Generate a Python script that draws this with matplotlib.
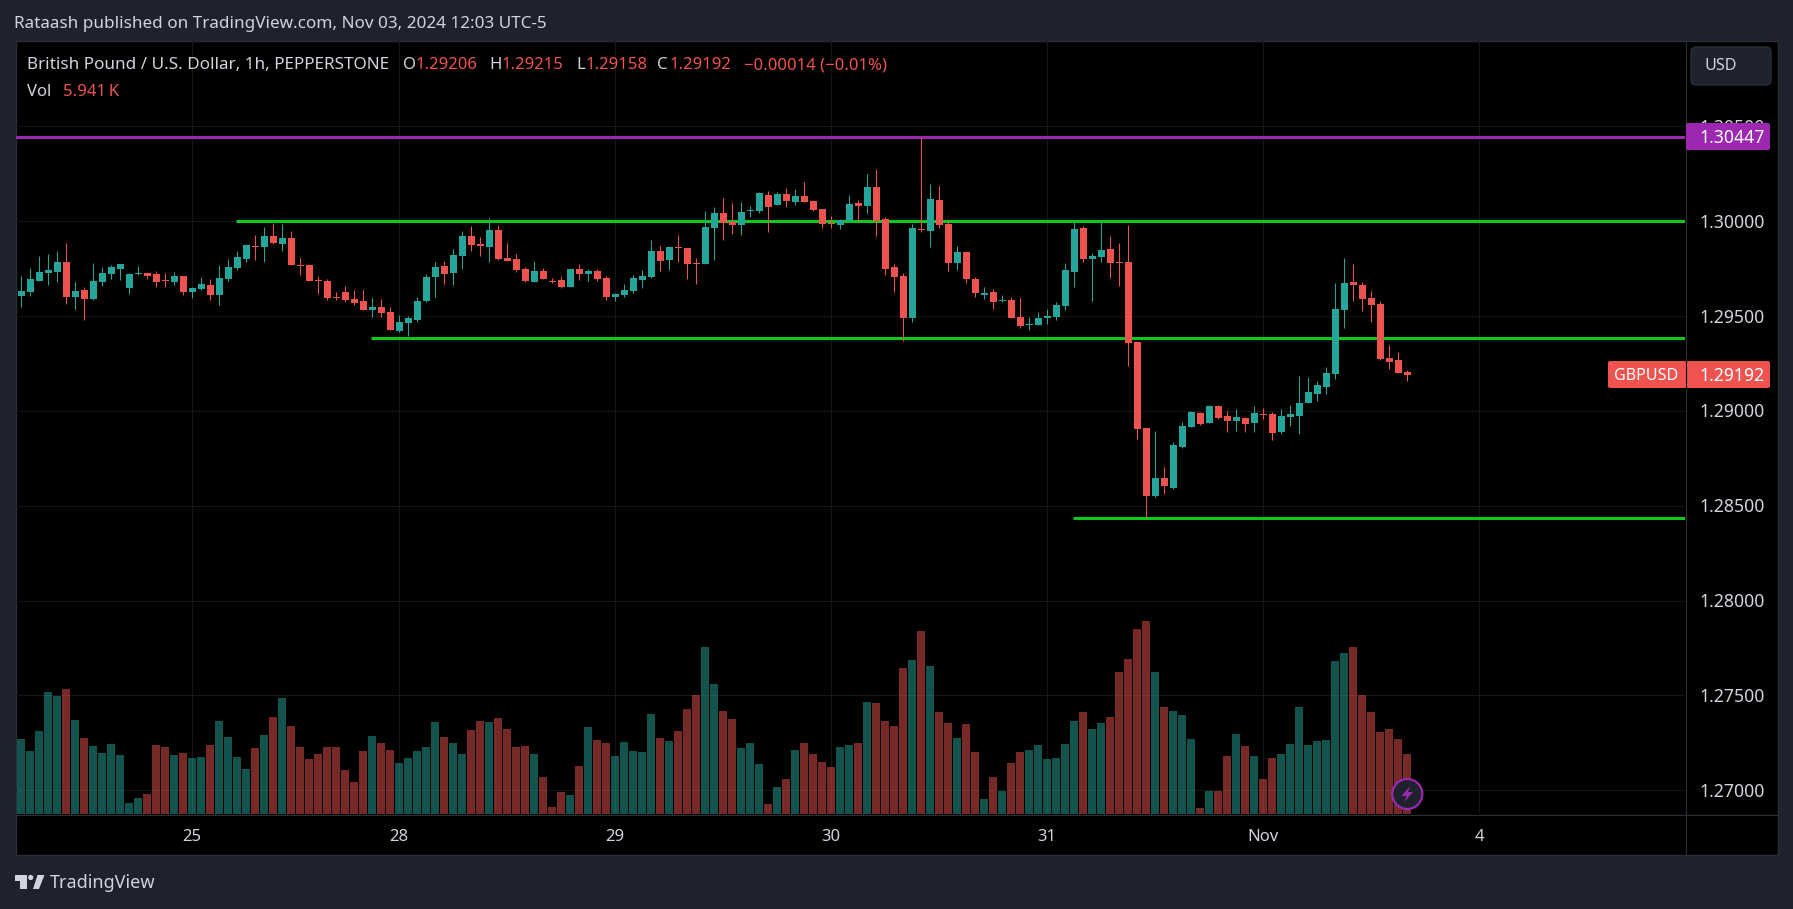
import numpy as np
import matplotlib
matplotlib.use('Agg')
import matplotlib.pyplot as plt
from matplotlib.patches import Circle, FancyBboxPatch, Polygon, Rectangle

opens = [
    1.29607, 1.29628, 1.29686, 1.29728, 1.29733, 1.29786, 1.29602, 1.29639, 1.29591, 1.29681,
    1.29723, 1.29749, 1.29649, 1.29723, 1.29728, 1.29723, 1.29691, 1.29681, 1.29712, 1.29628,
    1.29644, 1.29665, 1.29612, 1.29696, 1.29754, 1.29802, 1.29870, 1.29865, 1.29923, 1.29881,
    1.29912, 1.29770, 1.29770, 1.29691, 1.29686, 1.29602, 1.29628, 1.29591, 1.29581, 1.29533,
    1.29549, 1.29523, 1.29423, 1.29465, 1.29481, 1.29581, 1.29707, 1.29765, 1.29728, 1.29818,
    1.29923, 1.29881, 1.29865, 1.29954, 1.29807, 1.29802, 1.29749, 1.29681, 1.29739, 1.29686,
    1.29691, 1.29654, 1.29749, 1.29723, 1.29739, 1.29702, 1.29602, 1.29612, 1.29633, 1.29691,
    1.29707, 1.29844, 1.29796, 1.29865, 1.29860, 1.29781, 1.29775, 1.29965, 1.30044, 1.29996,
    1.29981, 1.30054, 1.30054, 1.30139, 1.30086, 1.30144, 1.30102, 1.30133, 1.30107, 1.30065,
    1.29991, 1.29981, 1.30002, 1.30096, 1.30081, 1.30181, 1.30012, 1.29760, 1.29712, 1.29491,
    1.29960, 1.29949, 1.30112, 1.29986, 1.29781, 1.29839, 1.29696, 1.29612, 1.29628, 1.29581,
    1.29586, 1.29496, 1.29454, 1.29454, 1.29491, 1.29496, 1.29554, 1.29733, 1.29965, 1.29802,
    1.29812, 1.29854, 1.29786, 1.29786, 1.29365, 1.28912, 1.28554, 1.28644, 1.28596, 1.28812,
    1.28918, 1.28991, 1.28939, 1.29028, 1.28975, 1.28949, 1.28965, 1.28939, 1.28986, 1.28986,
    1.28891, 1.28970, 1.28975, 1.29044, 1.29091, 1.29128, 1.29196, 1.29533, 1.29681, 1.29665,
    1.29596, 1.29565, 1.29281, 1.29270, 1.29206,
]
highs = [
    1.29712, 1.29754, 1.29818, 1.29828, 1.29844, 1.29886, 1.29681, 1.29654, 1.29781, 1.29760,
    1.29770, 1.29775, 1.29728, 1.29765, 1.29728, 1.29739, 1.29728, 1.29733, 1.29712, 1.29654,
    1.29707, 1.29696, 1.29770, 1.29802, 1.29844, 1.29875, 1.29928, 1.29970, 1.29991, 1.29986,
    1.29949, 1.29807, 1.29775, 1.29712, 1.29696, 1.29628, 1.29660, 1.29639, 1.29639, 1.29596,
    1.29591, 1.29549, 1.29507, 1.29502, 1.29602, 1.29723, 1.29786, 1.29791, 1.29854, 1.29949,
    1.29975, 1.29918, 1.30018, 1.29981, 1.29886, 1.29828, 1.29760, 1.29791, 1.29754, 1.29702,
    1.29712, 1.29749, 1.29775, 1.29749, 1.29749, 1.29712, 1.29623, 1.29670, 1.29718, 1.29744,
    1.29902, 1.29870, 1.29870, 1.29928, 1.29860, 1.29807, 1.30054, 1.30075, 1.30123, 1.30096,
    1.30102, 1.30081, 1.30154, 1.30160, 1.30154, 1.30175, 1.30170, 1.30207, 1.30112, 1.30065,
    1.30028, 1.30012, 1.30139, 1.30112, 1.30249, 1.30275, 1.30023, 1.29775, 1.29728, 1.29986,
    1.30447, 1.30196, 1.30186, 1.30002, 1.29870, 1.29839, 1.29707, 1.29654, 1.29644, 1.29612,
    1.29602, 1.29596, 1.29496, 1.29523, 1.29539, 1.29575, 1.29781, 1.29996, 1.29975, 1.29833,
    1.29996, 1.29923, 1.29886, 1.29981, 1.29365, 1.28912, 1.28896, 1.28702, 1.28839, 1.28944,
    1.29002, 1.28996, 1.29033, 1.29033, 1.29002, 1.29012, 1.28970, 1.29028, 1.29018, 1.28996,
    1.29012, 1.29033, 1.29186, 1.29181, 1.29160, 1.29233, 1.29675, 1.29807, 1.29775, 1.29681,
    1.29633, 1.29581, 1.29349, 1.29312, 1.29215,
]
lows = [
    1.29549, 1.29607, 1.29686, 1.29665, 1.29681, 1.29565, 1.29539, 1.29481, 1.29586, 1.29660,
    1.29696, 1.29691, 1.29618, 1.29718, 1.29696, 1.29654, 1.29654, 1.29665, 1.29612, 1.29596,
    1.29639, 1.29586, 1.29560, 1.29686, 1.29744, 1.29786, 1.29796, 1.29786, 1.29881, 1.29844,
    1.29770, 1.29718, 1.29686, 1.29618, 1.29586, 1.29586, 1.29575, 1.29560, 1.29533, 1.29496,
    1.29496, 1.29428, 1.29418, 1.29396, 1.29470, 1.29575, 1.29602, 1.29670, 1.29665, 1.29749,
    1.29844, 1.29818, 1.29786, 1.29796, 1.29791, 1.29733, 1.29681, 1.29681, 1.29696, 1.29675,
    1.29649, 1.29654, 1.29691, 1.29686, 1.29686, 1.29586, 1.29581, 1.29602, 1.29623, 1.29649,
    1.29702, 1.29739, 1.29744, 1.29786, 1.29696, 1.29670, 1.29775, 1.29796, 1.29902, 1.29933,
    1.29928, 1.30023, 1.30044, 1.29944, 1.30086, 1.30075, 1.30086, 1.30102, 1.30054, 1.29965,
    1.29965, 1.29960, 1.30002, 1.30002, 1.30044, 1.29923, 1.29718, 1.29628, 1.29370, 1.29470,
    1.29944, 1.29865, 1.29965, 1.29739, 1.29744, 1.29675, 1.29602, 1.29591, 1.29539, 1.29575,
    1.29491, 1.29439, 1.29428, 1.29454, 1.29460, 1.29481, 1.29533, 1.29654, 1.29786, 1.29581,
    1.29786, 1.29702, 1.29660, 1.29239, 1.28854, 1.28439, 1.28549, 1.28560, 1.28591, 1.28807,
    1.28918, 1.28928, 1.28939, 1.28960, 1.28891, 1.28896, 1.28891, 1.28891, 1.28960, 1.28849,
    1.28881, 1.28923, 1.28881, 1.29044, 1.29054, 1.29091, 1.29170, 1.29439, 1.29581, 1.29528,
    1.29470, 1.29270, 1.29223, 1.29202, 1.29158,
]
closes = [
    1.29633, 1.29696, 1.29733, 1.29744, 1.29786, 1.29602, 1.29633, 1.29591, 1.29686, 1.29728,
    1.29760, 1.29775, 1.29723, 1.29728, 1.29712, 1.29681, 1.29686, 1.29712, 1.29628, 1.29649,
    1.29670, 1.29612, 1.29702, 1.29760, 1.29812, 1.29875, 1.29865, 1.29923, 1.29886, 1.29912,
    1.29770, 1.29765, 1.29686, 1.29686, 1.29596, 1.29596, 1.29586, 1.29570, 1.29533, 1.29549,
    1.29518, 1.29428, 1.29470, 1.29491, 1.29581, 1.29707, 1.29760, 1.29723, 1.29823, 1.29923,
    1.29875, 1.29870, 1.29954, 1.29802, 1.29791, 1.29744, 1.29686, 1.29739, 1.29696, 1.29681,
    1.29654, 1.29749, 1.29723, 1.29739, 1.29696, 1.29602, 1.29618, 1.29639, 1.29702, 1.29712,
    1.29844, 1.29791, 1.29865, 1.29860, 1.29775, 1.29775, 1.29970, 1.30044, 1.29991, 1.29981,
    1.30049, 1.30060, 1.30149, 1.30075, 1.30144, 1.30107, 1.30133, 1.30102, 1.30060, 1.29986,
    1.29986, 1.30007, 1.30091, 1.30081, 1.30181, 1.30002, 1.29749, 1.29707, 1.29491, 1.29965,
    1.29954, 1.30118, 1.29981, 1.29781, 1.29839, 1.29696, 1.29623, 1.29623, 1.29575, 1.29586,
    1.29491, 1.29449, 1.29460, 1.29491, 1.29502, 1.29560, 1.29744, 1.29960, 1.29802, 1.29818,
    1.29849, 1.29781, 1.29781, 1.29360, 1.28907, 1.28554, 1.28644, 1.28602, 1.28818, 1.28923,
    1.28996, 1.28933, 1.29028, 1.28965, 1.28949, 1.28970, 1.28933, 1.28991, 1.28981, 1.28886,
    1.28975, 1.28986, 1.29044, 1.29102, 1.29139, 1.29202, 1.29539, 1.29675, 1.29665, 1.29591,
    1.29560, 1.29275, 1.29260, 1.29202, 1.29192,
]
volumes = [
    7.43, 6.24, 8.22, 12.08, 11.68, 12.38, 9.31, 7.52, 6.73, 6.04,
    6.93, 5.84, 1.09, 1.58, 1.98, 6.83, 6.63, 5.84, 6.04, 5.54,
    5.64, 6.83, 9.21, 7.62, 5.64, 4.46, 6.53, 7.82, 9.60, 11.48,
    8.71, 6.63, 5.45, 5.94, 6.63, 6.63, 4.36, 3.17, 6.24, 7.72,
    7.03, 6.34, 5.05, 5.54, 6.24, 6.63, 9.11, 7.62, 7.03, 5.94,
    8.32, 9.21, 9.11, 9.50, 8.42, 6.63, 6.73, 5.94, 3.66, 0.69,
    2.18, 1.88, 4.75, 8.61, 7.33, 7.03, 5.74, 7.13, 6.24, 6.14,
    9.90, 7.52, 7.23, 8.22, 10.40, 11.78, 16.53, 12.87, 10.20, 9.41,
    6.53, 7.03, 4.95, 0.99, 2.67, 3.47, 6.34, 7.03, 5.94, 5.15,
    4.65, 6.63, 6.83, 7.03, 11.09, 10.99, 9.21, 8.71, 14.45, 15.25,
    18.12, 14.65, 10.10, 9.01, 7.52, 8.91, 6.14, 1.49, 3.66, 2.28,
    5.05, 6.14, 6.34, 6.83, 5.45, 5.54, 6.93, 9.21, 10.10, 8.42,
    9.01, 9.60, 14.06, 15.35, 18.32, 19.11, 14.06, 10.59, 10.20, 9.80,
    7.43, 0.59, 2.28, 2.28, 5.74, 7.92, 6.73, 5.74, 3.47, 5.54,
    5.94, 6.93, 10.59, 6.83, 7.23, 7.33, 15.15, 15.94, 16.53, 11.78,
    10.10, 8.12, 8.42, 7.43, 5.94,
]
prev_volume = 10.7  # bar cut off by the left edge

date_ticks = [19, 42, 66, 90, 114, 138, 162]
date_labels = ['25', '28', '29', '30', '31', 'Nov', '4']
price_ticks = [1.27, 1.275, 1.28, 1.285, 1.29, 1.295, 1.30, 1.305]

# (level, first candle)
green_levels = [(1.30000, 23.85), (1.29384, 38.85), (1.28437, 116.85)]
high_level = 1.30447
last_price = 1.29192

W, H = 1793, 909
BG = '#1e222d'
BORDER = '#2a2e39'
TEAL = '#26a69a'
RED = '#ef5350'
PURPLE = '#9c27b0'
GREEN = '#0fc81c'
TXT = '#d1d4dc'
plt.rcParams['font.family'] = 'Noto Sans'


def rect(x0, y_top, x1, y_bot):
    # pixel box -> figure fractions
    return [x0 / W, 1 - y_bot / H, (x1 - x0) / W, (y_bot - y_top) / H]


def fx(x):
    return x / W


def fy(y):
    return 1 - y / H


def tag(x0, y0, x1, y1, **kw):
    return FancyBboxPatch((x0 + 2, y0 + 2), x1 - x0 - 4, y1 - y0 - 4,
                          boxstyle='round,pad=2,rounding_size=2', **kw)


fig = plt.figure(figsize=(W / 100, H / 100), dpi=100, facecolor=BG)

# black pane behind everything
bg = fig.add_axes(rect(15.5, 41, 1777.5, 855))
bg.set_facecolor('black')
bg.set_xticks([])
bg.set_yticks([])
for s in bg.spines.values():
    s.set_color(BORDER)
    s.set_linewidth(1)

ax = fig.add_axes(rect(15.5, 41, 1685.5, 814))
ax.patch.set_alpha(0)
ax.set_xlim((15.5 - 21.3) / 9, (1685.5 - 21.3) / 9)
ax.set_ylim(1.30 - (814 - 221.3) / 18967, 1.30 + (221.3 - 41) / 18967)
for s in ax.spines.values():
    s.set_visible(False)
ax.tick_params(length=0, labelbottom=False, labelleft=False)
ax.set_xticks(date_ticks)
ax.set_yticks(price_ticks)
ax.grid(True, color='#161616', lw=0.72)
ax.set_axisbelow(True)

# volume sits on its own scale, same box
vol = ax.twinx()
vol.set_ylim(0, 773 * 0.099)
vol.set_yticks([])
for s in vol.spines.values():
    s.set_visible(False)
idx = np.arange(len(opens))
up = np.array(closes) >= np.array(opens)
vol.bar(idx[up], np.array(volumes)[up], width=8 / 9, color=TEAL, alpha=0.5, lw=0)
vol.bar(idx[~up], np.array(volumes)[~up], width=8 / 9, color=RED, alpha=0.5, lw=0)
vol.bar([-1], [prev_volume], width=8 / 9, color=RED, alpha=0.5, lw=0)

# candles need to be above the volume axes
price = ax.twinx()
price.set_ylim(ax.get_ylim())
price.set_yticks([])
for s in price.spines.values():
    s.set_visible(False)

# level lines go under the candles
for level, start in green_levels:
    price.plot([start, 190], [level, level], color=GREEN, lw=2.2, zorder=2, solid_capstyle='butt')
price.axhline(high_level, color=PURPLE, lw=2.2, zorder=2)

colors = [TEAL if u else RED for u in up]
price.vlines(idx, lows, highs, colors=colors, lw=0.72, zorder=3)
body_low = np.minimum(opens, closes)
body_h = np.abs(np.array(closes) - np.array(opens))
price.bar(idx, body_h, bottom=body_low, width=7 / 9, color=colors, lw=0, zorder=3)
price.set_xlim(ax.get_xlim())

# overlay in pixel coordinates for the tags and badge
over = fig.add_axes([0, 0, 1, 1], zorder=1)
over.set_xlim(0, W)
over.set_ylim(H, 0)
over.axis('off')
over.plot([1685.5, 1685.5], [41, 855], color=BORDER, lw=0.8)
over.plot([15.5, 1777.5], [814.5, 814.5], color=BORDER, lw=0.8)

# right-hand price scale
PX = 1699
PS = 12.7
for p in price_ticks:
    ypix = 221.3 + (1.30 - p) * 18967
    over.text(PX, ypix + 1.5, f'{p:.5f}', color=TXT, fontsize=PS, va='center', ha='left', zorder=1)

over.add_patch(tag(1686, 123, 1770, 150, color=PURPLE, lw=0, zorder=2))
over.text(PX, 138, '1.30447', color='white', fontsize=PS, va='center', ha='left', zorder=3)

over.add_patch(tag(1608, 361, 1770, 388, color=RED, lw=0, zorder=2))
over.plot([1685.5, 1685.5], [361, 388], color='black', lw=0.8, zorder=3)
over.text(1614, 375.8, 'GBPUSD', color='white', fontsize=11.6, va='center', ha='left', zorder=3)
over.text(PX, 375.8, f'{last_price:.5f}', color='white', fontsize=PS, va='center', ha='left', zorder=3)

over.add_patch(FancyBboxPatch((1696, 52), 70, 28, boxstyle='round,pad=5,rounding_size=5',
                              facecolor=BG, edgecolor=BORDER, lw=1, zorder=2))
over.text(1705, 66, 'USD', color=TXT, fontsize=11.6, va='center', ha='left', zorder=3)

# date labels
for k, lab in zip(date_ticks, date_labels):
    over.text(21.3 + 9 * k, 837, lab, color=TXT, fontsize=12, va='center', ha='center')

# header
over.text(14, 24.5, 'Rataash published on TradingView.com, Nov 03, 2024 12:03 UTC-5',
          color=TXT, fontsize=12.3, va='center', ha='left')

# legend row, colour alternates
row = [('British Pound / U.S. Dollar, 1h, PEPPERSTONE', TXT, 27, 12.3), ('O', TXT, 403, 12), ('1.29206', RED, 416, 12),
       ('H', TXT, 489, 12), ('1.29215', RED, 502, 12), ('L', TXT, 576, 12), ('1.29158', RED, 586, 12),
       ('C', TXT, 657, 12), ('1.29192', RED, 670, 12), ('\u22120.00014 (\u22120.01%)', RED, 744, 12)]
for s, c, x, fs in row:
    over.text(x, 65, s, color=c, fontsize=fs, va='center', ha='left')
over.text(27, 91.5, 'Vol', color=TXT, fontsize=12, va='center', ha='left')
over.text(63, 91.5, '5.941\u2009K', color=RED, fontsize=12, va='center', ha='left')

# tradingview mark, bottom left
over.text(50, 883, 'TradingView', color=TXT, fontsize=13, va='center', ha='left')
over.add_patch(Polygon([(15, 875), (26.7, 875), (26.7, 889), (20, 889), (20, 881), (15, 881)], color=TXT, lw=0))
over.add_patch(Circle((30.7, 877.5), 2.6, color=TXT, lw=0))
over.add_patch(Polygon([(33, 889), (39, 889), (44.5, 875), (37.5, 875)], color=TXT, lw=0))

# lightning badge on the last volume bar
over.add_patch(Circle((1407.3, 794), 15, facecolor=BG, edgecolor=PURPLE, lw=1.6, zorder=2))
over.add_patch(Polygon([(1410, 786), (1401.5, 796), (1406.5, 796), (1404.5, 802), (1413, 792), (1408, 792)],
                       color=PURPLE, lw=0, zorder=3))

fig.savefig('out.png', dpi=100, facecolor=BG)
